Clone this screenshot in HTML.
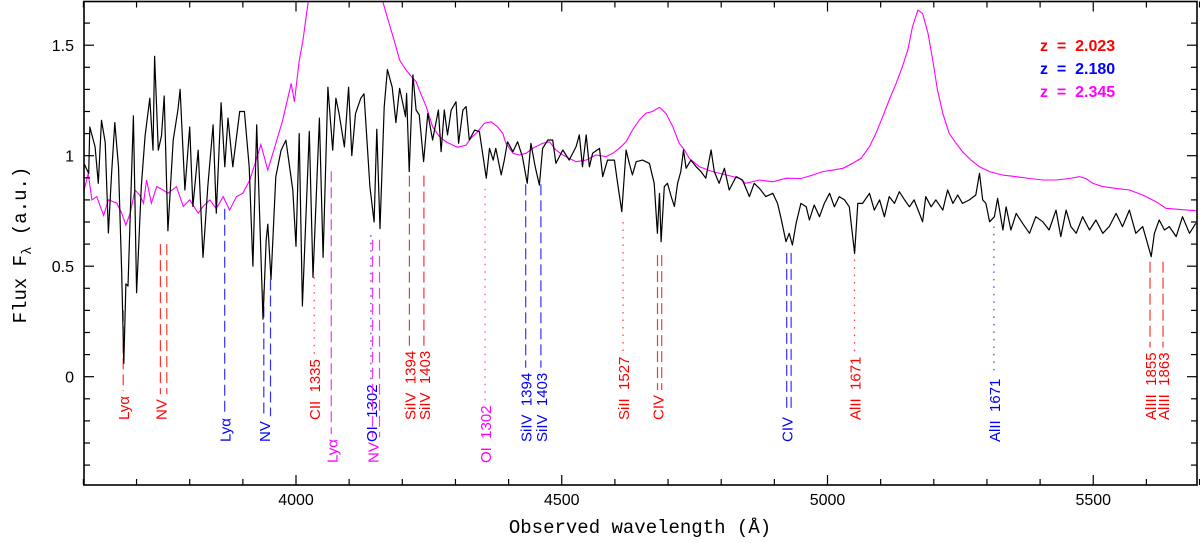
<!DOCTYPE html>
<html><head><meta charset="utf-8"><style>
html,body{margin:0;padding:0;background:#fff;}
svg{display:block;font-family:"Liberation Sans",sans-serif;}
.pre{white-space:pre;}
</style></head><body>
<svg id="chart" width="1200" height="543" viewBox="0 0 1200 543" xmlns="http://www.w3.org/2000/svg">
<defs><clipPath id="plotclip"><rect x="84" y="1.5" width="1113" height="483.5"/></clipPath></defs>
<g id="lines"></g>
<g id="series" clip-path="url(#plotclip)"></g>
<g id="axes"></g>
<text x="640" y="533" text-anchor="middle" font-family="Liberation Mono, monospace" font-size="19">Observed wavelength (Å)</text>
<text transform="translate(26,245) rotate(-90)" text-anchor="middle" font-family="Liberation Mono, monospace" font-size="19">Flux F<tspan font-size="14" dy="5">λ</tspan><tspan dy="-5"> (a.u.)</tspan></text>
<g font-size="16" font-weight="bold">
<text class="pre" x="1040" y="51" fill="#ff0000">z  =  2.023</text>
<text class="pre" x="1040" y="74" fill="#0000ff">z  =  2.180</text>
<text class="pre" x="1040" y="97" fill="#ff00ff">z  =  2.345</text>
</g>
</svg>
<script>
const blackWave = [3600,3610,3612,3622,3628,3634,3641,3647,3653,3659,3666,3672,3676,3680,3684,3694,3700,3709,3716,3725,3731,3734,3741,3747,3752,3759,3769,3778,3782,3791,3800,3806,3816,3825,3834,3844,3850,3859,3866,3872,3881,3894,3903,3912,3919,3926,3938,3944,3947,3953,3962,3972,3981,3994,4000,4006,4012,4025,4032,4044,4051,4060,4069,4075,4081,4091,4099,4105,4112,4122,4128,4139,4147,4152,4158,4166,4172,4181,4188,4195,4201,4206,4208,4213,4220,4226,4232,4240,4248,4257,4263,4268,4273,4279,4285,4292,4301,4306,4314,4320,4326,4336,4345,4351,4358,4364,4371,4376,4386,4392,4398,4408,4417,4426,4435,4442,4450,4458,4464,4474,4483,4489,4502,4514,4527,4533,4539,4546,4552,4558,4571,4577,4586,4599,4605,4613,4621,4627,4633,4640,4652,4665,4674,4680,4684,4687,4693,4699,4706,4712,4718,4724,4729,4734,4743,4753,4762,4771,4781,4787,4796,4806,4815,4828,4840,4853,4862,4872,4884,4897,4906,4912,4922,4928,4934,4941,4950,4960,4966,4975,4985,4994,5004,5013,5022,5032,5041,5051,5057,5066,5079,5088,5098,5107,5116,5126,5135,5145,5154,5163,5173,5179,5185,5195,5204,5217,5226,5236,5245,5254,5267,5279,5286,5292,5298,5305,5314,5320,5330,5336,5345,5355,5367,5380,5392,5405,5417,5430,5439,5449,5458,5468,5480,5493,5505,5518,5530,5543,5555,5568,5580,5593,5602,5609,5615,5624,5634,5643,5656,5668,5681,5693];
const blackFlux = [0.97,0.92,1.13,1.04,0.875,1.16,1.06,0.65,0.92,1.15,0.95,0.47,0.06,0.42,0.41,1.18,0.38,0.86,1.09,1.26,1.025,1.45,1.025,1.09,1.27,0.66,1.07,1.21,1.30,0.845,1.13,0.77,1.025,0.54,0.86,1.14,0.74,1.24,0.95,1.17,0.95,1.20,1.20,0.95,0.50,1.14,0.26,0.62,0.69,0.44,0.905,1.025,1.07,0.845,0.59,1.10,0.32,1.11,0.45,1.17,0.54,1.31,1.025,1.26,1.19,1.04,1.31,1.0,1.19,1.26,1.28,0.86,0.70,1.12,0.67,1.22,1.39,1.31,1.15,1.305,1.237,1.177,1.282,0.928,1.365,1.207,1.184,0.973,1.192,1.071,1.146,1.207,1.018,1.207,1.094,1.207,1.244,1.056,1.207,1.222,1.071,1.116,1.109,1.011,0.898,1.033,0.98,1.033,0.913,0.98,1.063,1.018,1.063,0.996,0.875,1.056,0.95,0.867,1.033,1.071,1.071,0.965,1.026,0.98,1.041,1.094,0.95,1.094,0.95,1.011,1.033,0.905,0.98,0.98,0.875,0.747,1.026,0.965,0.913,0.973,0.98,0.965,0.875,0.649,0.83,0.611,0.86,0.875,0.815,0.77,0.875,0.928,1.026,0.943,0.98,0.95,0.928,0.898,1.026,0.928,0.875,0.943,0.845,0.905,0.89,0.815,0.875,0.852,0.815,0.83,0.784,0.724,0.611,0.649,0.596,0.694,0.784,0.769,0.709,0.777,0.724,0.784,0.830,0.769,0.815,0.800,0.769,0.558,0.784,0.784,0.830,0.754,0.800,0.724,0.815,0.784,0.837,0.800,0.769,0.800,0.739,0.701,0.815,0.769,0.800,0.754,0.845,0.784,0.822,0.784,0.800,0.822,0.920,0.800,0.784,0.701,0.724,0.807,0.664,0.769,0.664,0.739,0.694,0.649,0.724,0.701,0.664,0.754,0.634,0.754,0.679,0.649,0.724,0.664,0.709,0.649,0.679,0.739,0.679,0.754,0.649,0.679,0.603,0.543,0.649,0.709,0.664,0.679,0.634,0.724,0.649,0.694];
const magWave = [3600,3609,3616,3625,3638,3647,3663,3672,3680,3688,3697,3706,3713,3719,3728,3738,3750,3759,3775,3788,3800,3816,3825,3838,3850,3863,3875,3888,3900,3913,3925,3934,3947,3963,3975,3991,3997,4006,4013,4040,4070,4110,4150,4163,4175,4185,4195,4207,4220,4226,4232,4245,4257,4270,4282,4295,4304,4320,4329,4342,4354,4367,4379,4389,4395,4408,4420,4433,4445,4464,4477,4489,4502,4514,4527,4546,4564,4583,4596,4608,4621,4633,4646,4658,4671,4684,4696,4709,4721,4731,4740,4759,4784,4809,4834,4846,4872,4897,4922,4950,4972,4991,5010,5029,5047,5063,5079,5091,5104,5116,5129,5141,5151,5160,5170,5179,5189,5198,5207,5217,5229,5242,5254,5270,5286,5305,5330,5355,5380,5405,5430,5455,5474,5486,5499,5518,5543,5568,5593,5618,5637,5662,5693];
const magFlux = [0.83,0.92,0.80,0.815,0.73,0.80,0.785,0.74,0.686,0.74,0.845,0.822,0.785,0.89,0.785,0.86,0.845,0.83,0.86,0.77,0.80,0.74,0.77,0.80,0.76,0.815,0.754,0.815,0.83,0.89,0.98,1.05,0.935,1.063,1.16,1.327,1.244,1.43,1.52,2.0,2.4,2.3,1.85,1.70,1.60,1.52,1.433,1.388,1.35,1.335,1.297,1.222,1.131,1.086,1.063,1.048,1.038,1.048,1.079,1.109,1.146,1.154,1.131,1.101,1.056,1.011,1.003,1.011,1.033,1.056,1.063,1.026,1.003,0.988,0.973,0.98,1.003,0.996,1.011,1.033,1.063,1.116,1.161,1.192,1.20,1.219,1.192,1.131,1.056,1.026,0.988,0.95,0.928,0.913,0.898,0.875,0.89,0.882,0.898,0.897,0.912,0.928,0.935,0.943,0.965,0.988,1.041,1.101,1.177,1.252,1.327,1.403,1.478,1.584,1.659,1.644,1.554,1.433,1.297,1.192,1.101,1.056,1.018,0.98,0.95,0.928,0.912,0.905,0.897,0.89,0.89,0.897,0.905,0.897,0.875,0.86,0.852,0.845,0.822,0.792,0.762,0.757,0.751];
const lineRest = [1215.67,1238.82,1242.80,1334.53,1393.76,1402.77,1526.71,1548.20,1550.78,1670.79,1854.72,1862.79, 1215.67,1238.82,1242.80,1302.17,1393.76,1402.77,1548.20,1550.78,1670.79, 1215.67,1238.82,1242.80,1302.17];
const lineZ = [2.023,2.023,2.023,2.023,2.023,2.023,2.023,2.023,2.023,2.023,2.023,2.023, 2.180,2.180,2.180,2.180,2.180,2.180,2.180,2.180,2.180, 2.345,2.345,2.345,2.345];
const lineLabel = ["Lyα","NV","","CII  1335","SiIV  1394","SiIV  1403","SiII  1527","CIV","","AlII  1671","AlIII  1855","AlIII  1863", "Lyα","NV","","OI  1302","SiIV  1394","SiIV  1403","CIV","","AlII  1671", "Lyα","NV","","OI  1302"];
const lineTop = [0.30,0.60,0.60,0.45,0.91,0.91,0.70,0.55,0.55,0.53,0.52,0.52, 0.76,0.39,0.44,0.64,0.87,0.87,0.56,0.56,0.68, 0.93,0.62,0.62,0.85];
const lineDotted = [0,0,0,1,0,0,1,0,0,1,0,0, 0,0,0,1,0,0,0,0,1, 0,0,0,1];
const yTicks = [0,0.5,1,1.5];
const yTickLabels = ["0","0.5","1","1.5"];
const xTicks = [4000,4500,5000,5500];

const NS="http://www.w3.org/2000/svg";
const X0=84,X1=1197,Y0=1.5,Y1=485;
function xs(w){return 296+(w-4000)*0.5315;}
function ys(v){return 376.7-221*v;}
function mk(tag,parent,attrs){const e=document.createElementNS(NS,tag);for(const k in attrs)e.setAttribute(k,attrs[k]);parent.appendChild(e);return e;}

const series=document.getElementById('series');
function path(wave,flux){let d='';for(let i=0;i<wave.length;i++){d+=(i?'L':'M')+xs(wave[i]).toFixed(1)+','+ys(flux[i]).toFixed(1);}return d;}
const pm=mk('path',series,{d:path(magWave,magFlux),fill:'none',stroke:'#ff00ff','stroke-width':1.1});


const pb=mk('path',series,{d:path(blackWave,blackFlux),fill:'none',stroke:'#000','stroke-width':1.2,'stroke-linejoin':'round'});



const colors={"2.023":"#ff0000","2.18":"#0000ff","2.345":"#ff00ff"};
const labBottom={"2.023":420,"2.18":442,"2.345":463};
const lines=document.getElementById('lines');
let prevBottom=null;
for(let i=0;i<lineRest.length;i++){
  const z=lineZ[i];const col=colors[String(z)];const lb=labBottom[String(z)];
  const x=xs(lineRest[i]*(1+z));
  let bottom;
  if(lineLabel[i]){
    const t=mk('text',lines,{transform:`translate(${(x+6).toFixed(1)},${lb}) rotate(-90)`,fill:col,'font-size':15,'class':'pre'});
    t.textContent=lineLabel[i];
    
    
    bottom=lb-t.getComputedTextLength()-5;
    prevBottom=bottom;
  } else bottom=prevBottom;
  const l=mk('line',lines,{x1:x.toFixed(1),x2:x.toFixed(1),y1:ys(lineTop[i]).toFixed(1),y2:bottom.toFixed(1),stroke:col,'stroke-width':1.2,'stroke-dasharray':lineDotted[i]?'1.5,6':'11,5','stroke-opacity':0.8});
  
  
}

const axes=document.getElementById('axes');
const fr=mk('rect',axes,{x:X0,y:Y0,width:X1-X0,height:Y1-Y0,fill:'none',stroke:'#000','stroke-width':1.6});


for(let w=3600;w<=5700;w+=100){
  const x=xs(w);const maj=w%500===0;const L=maj?10:6;
  const a=mk('line',axes,{x1:x,x2:x,y1:Y1,y2:Y1-L,stroke:'#000','stroke-width':1.2});
  
  
  const b=mk('line',axes,{x1:x,x2:x,y1:Y0,y2:Y0+L,stroke:'#000','stroke-width':1.2});
  
  
}
xTicks.forEach(w=>{const t=mk('text',axes,{x:xs(w),y:505,'text-anchor':'middle','font-size':16});t.textContent=String(w);
  
  });
for(let k=-4;k<=17;k++){
  const v=k/10;const y=ys(v);if(y<Y0||y>Y1)continue;const maj=k%5===0;const L=maj?10:6;
  const a=mk('line',axes,{x1:X0,x2:X0+L,y1:y,y2:y,stroke:'#000','stroke-width':1.2});
  
  
  const b=mk('line',axes,{x1:X1,x2:X1-L,y1:y,y2:y,stroke:'#000','stroke-width':1.2});
  
  
}
yTicks.forEach((v,i)=>{const t=mk('text',axes,{x:74,y:ys(v)+6,'text-anchor':'end','font-size':16});t.textContent=yTickLabels[i];
  
  });
</script>
</body></html>
